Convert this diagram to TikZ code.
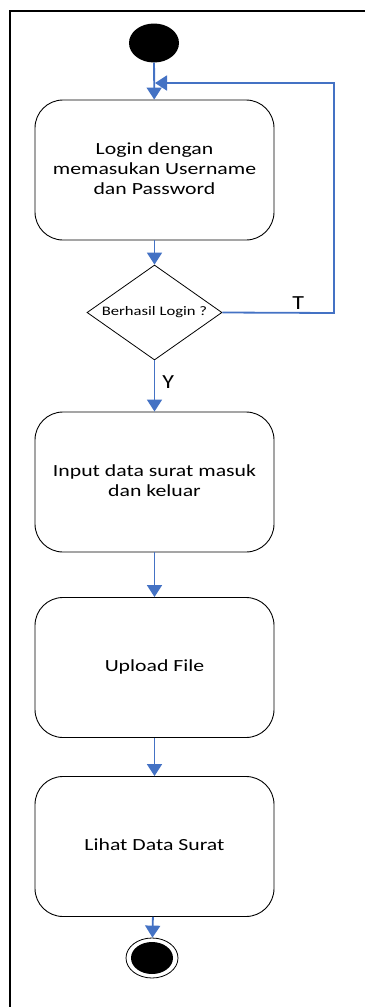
\documentclass[tikz,border=0pt]{standalone}
\usepackage{fontspec}
\setmainfont{Carlito}
\usepackage{graphicx}
\usepackage{tikz}
\usetikzlibrary{positioning,shapes.geometric,arrows.meta}

\definecolor{garis}{RGB}{68,114,196}
% teks agak melebar seperti pada gambar asli
\newcommand{\lebar}[1]{\scalebox{1.28}[1]{\begin{tabular}{@{}c@{}}#1\end{tabular}}}

\begin{document}
\begin{tikzpicture}[x=1pt,y=-1pt,
  aksi/.style={draw,line width=0.9pt,rounded corners=28pt,minimum width=239pt,
    minimum height=140pt,align=center,font=\fontsize{17}{20}\selectfont},
  keputusan/.style={draw,line width=0.8pt,diamond,aspect=1.42,minimum width=135pt,
    minimum height=95pt,inner sep=1pt,font=\fontsize{13}{15}\selectfont},
  alur/.style={draw=garis,line width=1.8pt,-{Triangle[width=15pt,length=12pt]}},
  label teks/.style={font=\fontsize{20}{22}\selectfont}]

\useasboundingbox (0,0) rectangle (365,1007);
% bingkai
\draw [line width=2pt] (10,1007) -- (10,11) -- (365,11);

\node [ellipse,fill=black,minimum width=50pt,minimum height=39pt] (mulai) at (154,43) {};

\node [aksi] (login) at (154.5,170) {\lebar{Login dengan\\memasukan Username\\dan Password}};
\node [keputusan] (cek) at (154.5,312.5) {\lebar{Berhasil Login ?}};
\node [aksi] (input) at (154.5,482) {\lebar{Input data surat masuk\\dan keluar}};
\node [aksi] (upload) at (154.5,667.5) {\lebar{Upload File}};
\node [aksi] (lihat) at (154.5,846.5) {\lebar{Lihat Data Surat}};

\node [ellipse,draw,line width=0.8pt,minimum width=52pt,minimum height=40pt] (selesai) at (152,958) {};
\node [ellipse,fill=black,minimum width=42pt,minimum height=32pt] (selesaiIsi) at (selesai) {};

\coordinate (sudut) at (334,313);
\coordinate (masuk) at (155,83);

\draw [alur] (mulai) -- (login);
\draw [alur] (login) -- (cek);
\draw [alur] (cek.east) -- node [above,pos=0.68,label teks,inner sep=2pt] {\scalebox{1.2}[1]{T}} (sudut) |- (masuk);
\draw [alur] (cek) -- node [right,pos=0.42,label teks,inner sep=7pt] {\scalebox{1.2}[1]{Y}} (input);
\draw [alur] (input) -- (upload);
\draw [alur] (upload) -- (lihat);
\draw [alur] (lihat) -- (selesai);

\end{tikzpicture}
\end{document}
